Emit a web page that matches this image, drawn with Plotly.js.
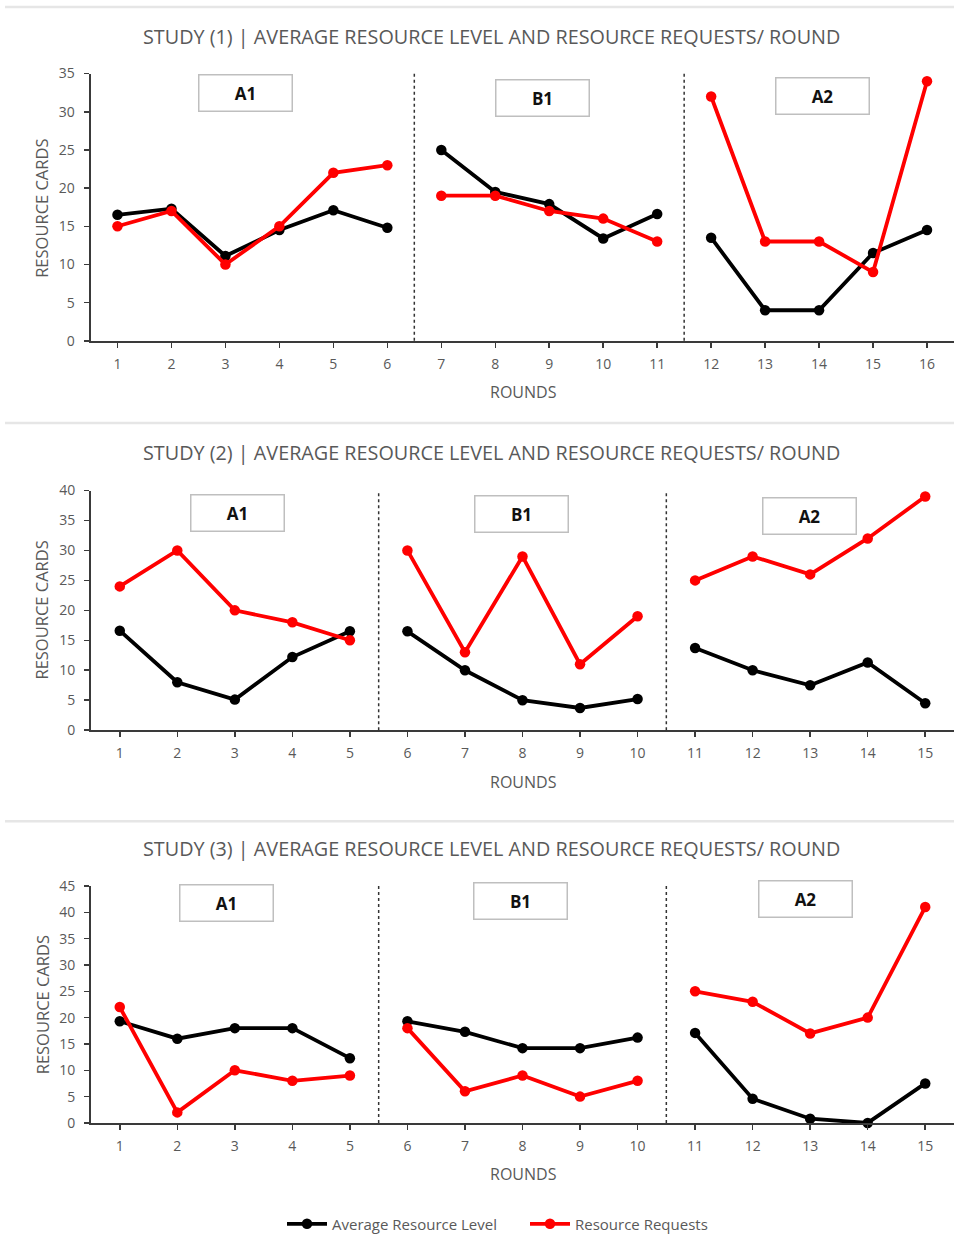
<!DOCTYPE html>
<html>
<head>
<meta charset="utf-8">
<script src="https://cdn.plot.ly/plotly-3.0.1.min.js"></script>
<style>html,body{margin:0;padding:0;background:#fff;}#chart{width:954px;height:1241px;}</style>
</head>
<body>
<div id="chart"></div>
<script>
// ---------- DATA ----------
const seriesNames = ["Average Resource Level", "Resource Requests"];
const phaseLabels = ["A1", "B1", "A2"];
const studyTitles = [
  "STUDY (1) | AVERAGE RESOURCE LEVEL AND RESOURCE REQUESTS/ ROUND",
  "STUDY (2) | AVERAGE RESOURCE LEVEL AND RESOURCE REQUESTS/ ROUND",
  "STUDY (3) | AVERAGE RESOURCE LEVEL AND RESOURCE REQUESTS/ ROUND"
];
const yTitle = "RESOURCE CARDS";
const xTitle = "ROUNDS";

// Study 1 (16 rounds: A1 = 1-6, B1 = 7-11, A2 = 12-16)
const phases1 = [6, 5, 5];
const level1 = [16.5, 17.3, 11.1, 14.5, 17.1, 14.8, 25.0, 19.5, 17.9, 13.4, 16.6, 13.5, 4.0, 4.0, 11.5, 14.5];
const requests1 = [15, 17, 10, 15, 22, 23, 19, 19, 17, 16, 13, 32, 13, 13, 9, 34];
const yTicks1 = [0, 5, 10, 15, 20, 25, 30, 35];

// Study 2 (15 rounds: A1 = 1-5, B1 = 6-10, A2 = 11-15)
const phases2 = [5, 5, 5];
const level2 = [16.6, 8.0, 5.1, 12.2, 16.5, 16.5, 10.0, 5.0, 3.7, 5.2, 13.7, 10.0, 7.5, 11.3, 4.5];
const requests2 = [24, 30, 20, 18, 15, 30, 13, 29, 11, 19, 25, 29, 26, 32, 39];
const yTicks2 = [0, 5, 10, 15, 20, 25, 30, 35, 40];

// Study 3 (15 rounds: A1 = 1-5, B1 = 6-10, A2 = 11-15)
const phases3 = [5, 5, 5];
const level3 = [19.3, 16.0, 18.0, 18.0, 12.3, 19.3, 17.3, 14.2, 14.2, 16.2, 17.1, 4.6, 0.8, 0.0, 7.5];
const requests3 = [22, 2, 10, 8, 9, 18, 6, 9, 5, 8, 25, 23, 17, 20, 41];
const yTicks3 = [0, 5, 10, 15, 20, 25, 30, 35, 40, 45];

// ---------- LAYOUT HELPERS ----------
const W = 954, H = 1241;
const px = x => x / W;
const py = y => 1 - y / H;
const FONT = "'Open Sans', sans-serif";
const GRAY = "#595959";

const studies = [
  {phases: phases1, level: level1, req: requests1, ticks: yTicks1,
   yTop: 74, yBot: 342.7, x0: 90.5,
   titleY: 37, roundsY: 394, yTitleY: 210,
   boxes: [[245.5, 94], [542, 98.5], [822.5, 96.5]]},
  {phases: phases2, level: level2, req: requests2, ticks: yTicks2,
   yTop: 493.3, yBot: 734.3, x0: 91,
   titleY: 455, roundsY: 786, yTitleY: 614,
   boxes: [[237.5, 516], [521.5, 517], [809.5, 518.5]]},
  {phases: phases3, level: level3, req: requests3, ticks: yTicks3,
   yTop: 891, yBot: 1129.3, x0: 91,
   titleY: 853, roundsY: 1181, yTitleY: 1011,
   boxes: [[226, 908.5], [520, 906.5], [805, 904.5]]}
];

// split a series into phase segments separated by gaps
function segmented(values, phases) {
  const xs = [], ys = [];
  let i = 0;
  phases.forEach((n, p) => {
    for (let k = 0; k < n; k++, i++) { xs.push(i + 1); ys.push(values[i]); }
    if (p < phases.length - 1) { xs.push(i + 0.5); ys.push(null); }
  });
  return {xs, ys};
}

const traces = [];
const shapes = [];
const annotations = [];
const layout = {
  width: W, height: H,
  margin: {l: 0, r: 0, t: 0, b: 0},
  paper_bgcolor: "#fff", plot_bgcolor: "rgba(0,0,0,0)",
  font: {family: FONT, color: GRAY, size: 13},
  showlegend: true,
  legend: {orientation: "h", x: px(282), xanchor: "left", y: py(1231), yanchor: "middle",
           font: {family: FONT, size: 15, color: GRAY}, itemwidth: 40, entrywidth: 188,
           entrywidthmode: "pixels", tracegroupgap: 0},
  shapes, annotations
};

studies.forEach((s, idx) => {
  const n = s.level.length;
  const sfx = idx === 0 ? "" : String(idx + 1);
  const xa = "x" + sfx, ya = "y" + sfx;
  const colors = ["#000000", "#ff0000"];
  [s.level, s.req].forEach((vals, j) => {
    const seg = segmented(vals, s.phases);
    traces.push({
      type: "scatter", mode: "lines+markers",
      x: seg.xs, y: seg.ys, xaxis: xa, yaxis: ya,
      connectgaps: false,
      name: seriesNames[j], legendgroup: seriesNames[j],
      showlegend: idx === 0,
      line: {color: colors[j], width: 3.8},
      marker: {color: colors[j], size: 10.5, symbol: "circle"},
      cliponaxis: false
    });
  });
  const axisCommon = {
    showline: true, linecolor: "#3a3a3a", linewidth: 2,
    showgrid: false, zeroline: false,
    ticks: "outside", ticklen: 5, tickwidth: 1.5, tickcolor: "#3a3a3a",
    tickfont: {family: FONT, size: 14, color: GRAY}, fixedrange: true
  };
  const rounds = Array.from({length: n}, (_, i) => i + 1);
  layout["xaxis" + sfx] = Object.assign({}, axisCommon, {
    domain: [px(s.x0), 1], range: [0.5, n + 0.5], anchor: ya,
    tickmode: "array", tickvals: rounds, ticktext: rounds.map(String), ticklabelstandoff: 4
  });
  layout["yaxis" + sfx] = Object.assign({}, axisCommon, {
    domain: [py(s.yBot), py(s.yTop)], range: [0, s.ticks[s.ticks.length - 1]], anchor: xa,
    tickmode: "array", tickvals: s.ticks, ticktext: s.ticks.map(String), ticklabelstandoff: 6
  });
  // dotted dividers between phases
  let cum = 0;
  s.phases.slice(0, -1).forEach(p => {
    cum += p;
    shapes.push({type: "line", xref: xa, yref: ya + " domain", x0: cum + 0.5, x1: cum + 0.5, y0: 0, y1: 1,
                 line: {color: "#333", width: 1.5, dash: "dot"}});
  });
  // phase boxes
  s.boxes.forEach((b, k) => {
    annotations.push({xref: "paper", yref: "paper", x: px(b[0]), y: py(b[1]), xanchor: "center", yanchor: "middle",
      text: "<b>" + phaseLabels[k] + "</b>", showarrow: false,
      font: {family: "'Open Sans', sans-serif", size: 17, color: "#111"},
      width: 90, height: 33, bordercolor: "#bfbfbf", borderwidth: 1.5, borderpad: 1, bgcolor: "#fff"});
  });
  // study title
  annotations.push({xref: "paper", yref: "paper", x: px(491), y: py(s.titleY), xanchor: "center", yanchor: "middle",
    text: studyTitles[idx], showarrow: false, font: {family: FONT, size: 19.8, color: GRAY}});
  // axis titles
  annotations.push({xref: "paper", yref: "paper", x: px(523), y: py(s.roundsY), xanchor: "center", yanchor: "middle",
    text: xTitle, showarrow: false, font: {family: FONT, size: 16, color: GRAY}});
  annotations.push({xref: "paper", yref: "paper", x: px(42), y: py(s.yTitleY), xanchor: "center", yanchor: "middle",
    text: yTitle, textangle: -90, showarrow: false, font: {family: FONT, size: 16.5, color: GRAY}});
});

// light separator rules
[7, 425.5, 826].forEach(y => {
  shapes.push({type: "line", xref: "paper", yref: "paper", x0: px(5), x1: 1, y0: py(y), y1: py(y),
               line: {color: "#e6e6e6", width: 2.5}});
});

Plotly.newPlot("chart", traces, layout, {displayModeBar: false, staticPlot: true});
</script>
</body>
</html>
